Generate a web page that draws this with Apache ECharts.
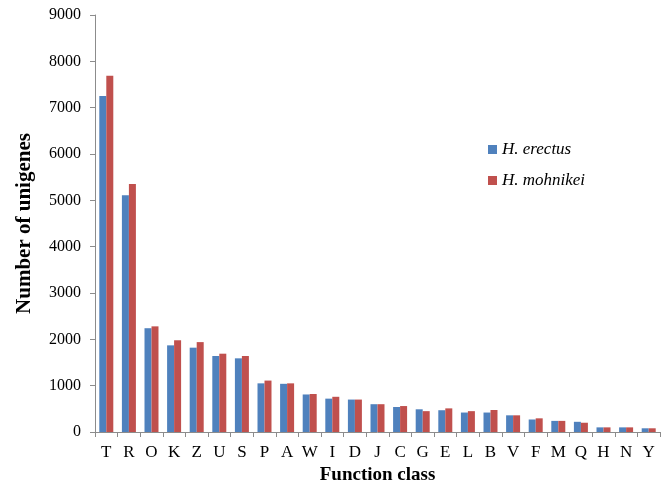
<!DOCTYPE html>
<html>
<head>
<meta charset="utf-8">
<script src="https://cdn.jsdelivr.net/npm/echarts@6/dist/echarts.min.js"></script>
<style>html,body{margin:0;padding:0;background:#fff}#c{width:664px;height:488px}</style>
</head>
<body>
<div id="c"></div>
<script>
var categories = ['T','R','O','K','Z','U','S','P','A','W','I','D','J','C','G','E','L','B','V','F','M','Q','H','N','Y'];
var erectus = [7250,5110,2240,1870,1820,1640,1590,1050,1040,810,720,700,600,540,490,470,420,420,360,270,240,220,100,100,80];
var mohnikei = [7690,5350,2280,1980,1940,1690,1640,1110,1050,820,760,700,600,560,450,510,450,475,360,295,240,200,100,100,80];
var yTicks = [0,1000,2000,3000,4000,5000,6000,7000,8000,9000];

var font = 'Liberation Serif, Times New Roman, serif';
var chart = echarts.init(document.getElementById('c'));
chart.setOption({
  animation: false,
  backgroundColor: '#fff',
  grid: {left: 95, right: 4, top: 15, bottom: 56, outerBoundsMode: 'none', containLabel: false},
  legend: {
    orient: 'vertical', left: 483, top: 136, itemWidth: 9, itemHeight: 9, itemGap: 14,
    icon: 'rect',
    textStyle: {fontFamily: font, fontStyle: 'italic', fontSize: 17, color: '#000'},
    data: ['H. erectus', 'H. mohnikei']
  },
  xAxis: {
    type: 'category', data: categories,
    name: 'Function class', nameLocation: 'middle', nameGap: 33,
    nameTextStyle: {fontFamily: font, fontWeight: 'bold', fontSize: 19, color: '#000'},
    axisLine: {lineStyle: {color: '#8c8c8c'}},
    axisTick: {show: true, length: 5, lineStyle: {color: '#8c8c8c'}},
    axisLabel: {fontFamily: font, fontSize: 17, color: '#000', margin: 12}
  },
  yAxis: {
    type: 'value', min: yTicks[0], max: yTicks[yTicks.length-1], interval: 1000,
    name: 'Number of unigenes', nameLocation: 'middle', nameGap: 60, nameRotate: 90,
    nameTextStyle: {fontFamily: font, fontWeight: 'bold', fontSize: 21, color: '#000'},
    axisLine: {show: true, lineStyle: {color: '#8c8c8c'}},
    axisTick: {show: true, length: 5, lineStyle: {color: '#8c8c8c'}},
    splitLine: {show: false},
    axisLabel: {fontFamily: font, fontSize: 16, color: '#000', margin: 14, formatter: function (v) { return String(v); }}
  },
  series: [
    {name: 'H. erectus', type: 'bar', data: erectus, barWidth: 7, barGap: '0%', itemStyle: {color: '#4F81BD'}},
    {name: 'H. mohnikei', type: 'bar', data: mohnikei, barWidth: 7, itemStyle: {color: '#C0504D'}}
  ]
});
</script>
</body>
</html>
